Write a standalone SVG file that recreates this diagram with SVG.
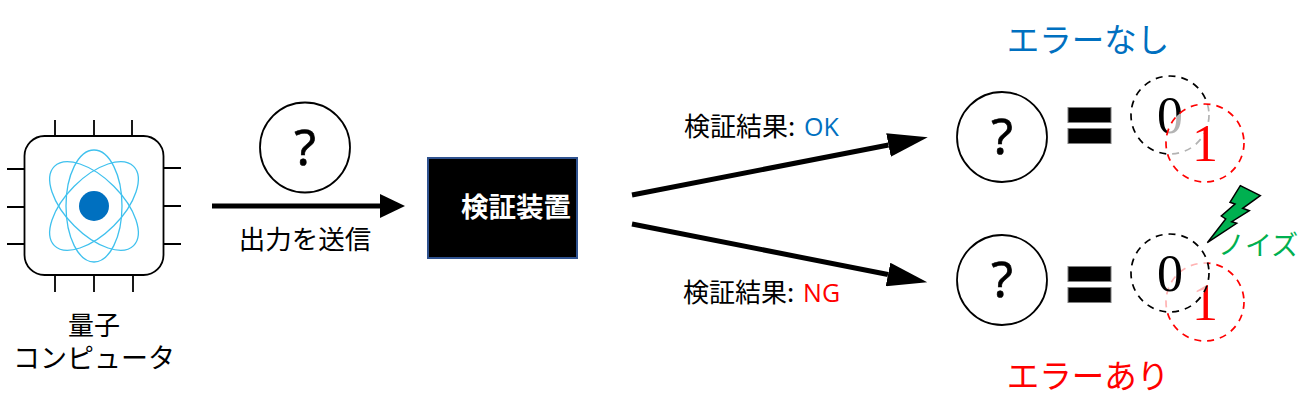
<svg xmlns="http://www.w3.org/2000/svg" width="1300" height="402" viewBox="0 0 1300 402">
<style>
text{font-family:"Noto Sans CJK JP","Noto Sans",sans-serif;font-size:26px;fill:#000}
.c{text-anchor:middle}
.q{font-family:"Noto Sans",sans-serif;font-size:50px;font-weight:400;stroke:#000;stroke-width:.6;text-anchor:middle}
.n{font-family:"Liberation Serif",serif;font-size:52px;text-anchor:middle}
.orb{fill:none;stroke:#3fc1ee;stroke-width:1.3}
.pin{stroke:#000;stroke-width:1.8}
.ring{fill:none;stroke:#000;stroke-width:1.8}
.conn{stroke:#000;stroke-width:5;fill:none}
.dk{fill:#fff;fill-opacity:0;stroke:#000;stroke-width:1.7;stroke-dasharray:7 6}
.dr{fill:#fff;fill-opacity:.7;stroke:#f00;stroke-width:1.7;stroke-dasharray:7 6}
.eq{fill:#000;stroke:#7f7f7f;stroke-width:1}
.lat{font-family:"Open Sans",sans-serif;font-size:25px}
.blue{fill:#0070c0}.red{fill:#f00}.green{fill:#00b050}
</style>
<defs>
<marker id="h1" markerUnits="userSpaceOnUse" markerWidth="25" markerHeight="24" refX="0" refY="12" orient="auto"><path d="M0 0L25 12L0 24Z"/></marker>
<marker id="h2" markerUnits="userSpaceOnUse" markerWidth="40" markerHeight="24" refX="0" refY="12" orient="auto"><path d="M0 0L40 12L0 24Z"/></marker>
</defs>
<g id="connectors">
<path class="conn" d="M212 206H380" marker-end="url(#h1)"/>
<path class="conn" d="M632 195L888.500 145" marker-end="url(#h2)"/>
<path class="conn" d="M632 224L888 274.500" marker-end="url(#h2)"/>
</g>
<g id="computer">
<path class="pin" d="M55 120V136M94 120V136M132 120V136M55 276V292M94 276V292M133 276V292M7 169H24M7 207H24M7 244H24M164 168H181M164 206H181M164 244H181"/>
<rect x="24.500" y="136" width="139" height="139" rx="20" fill="#fff" stroke="#000" stroke-width="1.800"/>
<ellipse class="orb" cx="94" cy="206" rx="28" ry="56"/>
<ellipse class="orb" cx="94" cy="206" rx="28" ry="56" transform="rotate(45 94 206)"/>
<ellipse class="orb" cx="94" cy="206" rx="28" ry="56" transform="rotate(-45 94 206)"/>
<circle cx="94" cy="206" r="15" fill="#0070c0"/>
<text class="c" x="94" y="335">量子</text>
<text class="c" x="94" y="368" style="font-size:27px">コンピュータ</text>
</g>
<g id="output">
<circle class="ring" cx="305" cy="147.500" r="45" fill="#fff"/>
<text class="q" x="305" y="165">?</text>
<text class="c" x="305" y="249" style="font-size:26.500px">出力を送信</text>
</g>
<g id="verifier">
<rect x="428" y="158" width="149" height="100" fill="#000" stroke="#2f528f" stroke-width="2"/>
<text class="c" x="516" y="217" style="fill:#fff;font-weight:700;font-size:27.500px">検証装置</text>
</g>
<g id="label-ok"><text x="684" y="136">検証結果: <tspan class="blue lat" dx="3">OK</tspan></text></g>
<g id="label-ng"><text x="683" y="302">検証結果: <tspan class="red lat" dx="3">NG</tspan></text></g>
<g id="result-ok">
<text class="c" x="1088" y="52" style="font-size:32.500px;fill:#0070c0">エラーなし</text>
<circle class="ring" cx="1002" cy="137" r="45"/>
<text class="q" x="1002" y="154">?</text>
<rect class="eq" x="1068" y="107.500" width="43" height="15"/>
<rect class="eq" x="1068" y="128.500" width="43" height="15"/>
<circle class="dk" cx="1170" cy="115" r="39"/>
<text class="n" x="1170" y="133">0</text>
<circle class="dr" cx="1205" cy="143" r="39"/>
<text class="n" x="1205" y="161" style="fill:#f00">1</text>
</g>
<g id="result-ng">
<text class="c" x="1088" y="388" style="font-size:32.500px;fill:#f00">エラーあり</text>
<circle class="ring" cx="1002" cy="280" r="45"/>
<text class="q" x="1002" y="297">?</text>
<rect class="eq" x="1068" y="266.500" width="43" height="15"/>
<rect class="eq" x="1068" y="287.500" width="43" height="15"/>
<circle class="dr" cx="1205" cy="302" r="39" style="fill-opacity:0"/>
<text class="n" x="1205" y="320" style="fill:#f00">1</text>
<circle class="dk" cx="1170" cy="273" r="39" style="fill-opacity:.7"/>
<text class="n" x="1170" y="291">0</text>
</g>
<g id="noise">
<polygon points="1240.300,185.700 1260.300,195.700 1242.700,208.300 1249.300,210.700 1231.700,221.700 1236.700,223.300 1207.300,242.700 1225.700,219 1221.300,216 1235,204 1230,202.300" fill="#00b050" stroke="#000" stroke-width="1.500"/>
<text x="1218" y="255" style="fill:#00b050;font-size:27px">ノイズ</text>
</g>
</svg>
